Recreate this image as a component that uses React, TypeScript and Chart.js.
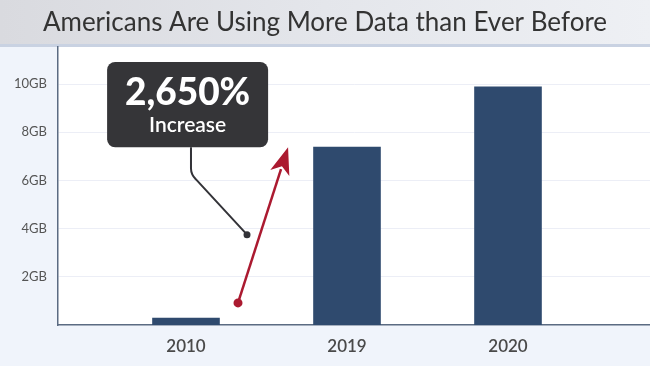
import React, { useEffect, useRef } from 'react';
import { Chart, registerables } from 'chart.js';

Chart.register(...registerables);

// ---- data ----
const years = ['2010', '2019', '2020'];
const usageGB = [0.3, 7.4, 9.9];
const yTickValues = [2, 4, 6, 8, 10];
const chartTitle = 'Americans Are Using More Data than Ever Before';
const calloutLines = ['2,650%', 'Increase'];
// annotation geometry, in data units (x = category index, y = GB)
const calloutBox = [-0.49, 10.92, 0.51, 7.375];
const connectorPts = [
  [0.031, 7.375],
  [0.031, 6.25],
  [0.379, 3.75],
];
const arrowPts = [
  [0.323, 0.917],
  [0.634, 7.375],
];

const FONT = 'Lato, "Noto Sans", sans-serif';

const backgroundPlugin = {
  id: 'bgPlugin',
  beforeDraw(chart: any) {
    const { ctx, width, height, chartArea } = chart;
    ctx.save();
    ctx.fillStyle = '#f0f4fb';
    ctx.fillRect(0, 0, width, height);
    const g = ctx.createLinearGradient(0, 0, width, 0);
    g.addColorStop(0, '#d9dadf');
    g.addColorStop(0.5, '#e4e6eb');
    g.addColorStop(1, '#eef0f4');
    ctx.fillStyle = g;
    ctx.fillRect(0, 0, width, chartArea.top - 3);
    ctx.fillStyle = '#c9d2e2';
    ctx.fillRect(0, chartArea.top - 3, width, 3);
    ctx.fillStyle = '#ffffff';
    ctx.fillRect(chartArea.left, chartArea.top, chartArea.right - chartArea.left, chartArea.bottom - chartArea.top);
    ctx.restore();
  },
};

const annotationPlugin = {
  id: 'annotPlugin',
  afterDatasetsDraw(chart: any) {
    const { ctx } = chart;
    const xs = chart.scales.x;
    const ys = chart.scales.y;
    const px = (v: number) => xs.getPixelForValue(v);
    const py = (v: number) => ys.getPixelForValue(v);
    ctx.save();

    // connector line
    const c = connectorPts.map(([x, y]) => [px(x), py(y)]);
    ctx.strokeStyle = '#333338';
    ctx.lineWidth = 2;
    ctx.lineJoin = 'round';
    ctx.beginPath();
    ctx.moveTo(c[0][0], c[0][1]);
    ctx.lineTo(c[1][0], c[1][1] - 6);
    ctx.quadraticCurveTo(c[1][0], c[1][1], c[1][0] + 5, c[1][1] + 5);
    ctx.lineTo(c[2][0], c[2][1]);
    ctx.stroke();
    ctx.fillStyle = '#333338';
    ctx.beginPath();
    ctx.arc(c[2][0], c[2][1], 3.5, 0, Math.PI * 2);
    ctx.fill();

    // callout box
    const bx0 = px(calloutBox[0]);
    const by0 = py(calloutBox[1]);
    const bx1 = px(calloutBox[2]);
    const by1 = py(calloutBox[3]);
    ctx.fillStyle = '#353538';
    ctx.beginPath();
    (ctx as any).roundRect(bx0, by0, bx1 - bx0, by1 - by0, 8);
    ctx.fill();
    const cx = (bx0 + bx1) / 2;
    ctx.fillStyle = '#ffffff';
    ctx.textAlign = 'center';
    ctx.textBaseline = 'alphabetic';
    ctx.font = `900 37px ${FONT}`;
    ctx.fillText(calloutLines[0], cx, by0 + 43);
    ctx.font = `600 21px ${FONT}`;
    ctx.fillText(calloutLines[1], cx, by0 + 70);

    // red arrow
    const a0 = [px(arrowPts[0][0]), py(arrowPts[0][1])];
    const a1 = [px(arrowPts[1][0]), py(arrowPts[1][1])];
    const ang = Math.atan2(a1[1] - a0[1], a1[0] - a0[0]);
    const headLen = 27;
    const headHalf = 10;
    const red = '#ab1a30';
    ctx.strokeStyle = red;
    ctx.fillStyle = red;
    ctx.lineWidth = 2.5;
    ctx.beginPath();
    ctx.moveTo(a0[0], a0[1]);
    ctx.lineTo(a1[0] - Math.cos(ang) * (headLen - 4), a1[1] - Math.sin(ang) * (headLen - 4));
    ctx.stroke();
    const bxh = a1[0] - Math.cos(ang) * headLen;
    const byh = a1[1] - Math.sin(ang) * headLen;
    const nx = -Math.sin(ang);
    const ny = Math.cos(ang);
    const inner = a1[0] - Math.cos(ang) * (headLen - 7);
    const innerY = a1[1] - Math.sin(ang) * (headLen - 7);
    ctx.beginPath();
    ctx.moveTo(a1[0], a1[1]);
    ctx.lineTo(bxh + nx * headHalf, byh + ny * headHalf);
    ctx.lineTo(inner, innerY);
    ctx.lineTo(bxh - nx * headHalf, byh - ny * headHalf);
    ctx.closePath();
    ctx.fill();
    ctx.beginPath();
    ctx.arc(a0[0], a0[1], 4.5, 0, Math.PI * 2);
    ctx.fill();

    ctx.restore();
  },
};

export default function App() {
  const ref = useRef<HTMLCanvasElement>(null);
  useEffect(() => {
    if (!ref.current) return;
    const chart = new Chart(ref.current, {
      type: 'bar',
      data: {
        datasets: [
          {
            data: usageGB.map((v, i) => ({ x: i, y: v })),
            backgroundColor: '#2f4a6e',
            categoryPercentage: 0.42,
            barPercentage: 1,
          },
        ],
      },
      options: {
        responsive: false,
        animation: false,
        layout: { padding: 0 },
        plugins: {
          legend: { display: false },
          tooltip: { enabled: false },
          title: {
            display: true,
            text: chartTitle,
            color: '#333333',
            font: { family: FONT, size: 26, weight: 'normal' },
            padding: { top: 7, bottom: 8.8 },
          },
        },
        scales: {
          x: {
            type: 'linear',
            offset: false,
            min: -0.795,
            max: 2.882,
            afterBuildTicks: (s: any) => {
              s.ticks = years.map((_, i) => ({ value: i }));
            },
            afterFit: (s: any) => {
              s.height = 41;
            },
            ticks: {
              callback: (v: any) => years[Math.round(Number(v))] ?? '',
              color: '#4a4a4a',
              font: { family: FONT, size: 17, weight: '600' },
              padding: 11,
              autoSkip: false,
              maxRotation: 0,
            },
            grid: { display: false, drawTicks: false, offset: false },
            border: { color: '#5b6b82', width: 1.5 },
          },
          y: {
            min: 0,
            max: 11.54,
            afterBuildTicks: (s: any) => {
              s.ticks = yTickValues.map((v) => ({ value: v }));
            },
            afterFit: (s: any) => {
              s.width = 58;
            },
            ticks: {
              callback: (v: any) => `${v}GB`,
              color: '#555555',
              font: { family: FONT, size: 13 },
              padding: 11,
            },
            grid: { color: '#eceef6', drawTicks: false },
            border: { color: '#5b6b82', width: 1.5 },
          },
        },
      },
      plugins: [backgroundPlugin, annotationPlugin],
    } as any);
    return () => chart.destroy();
  }, []);
  return (
    <div style={{ position: 'fixed', left: 0, top: 0, width: 650, height: 366 }}>
      <canvas ref={ref} width={650} height={366} style={{ display: 'block' }} />
    </div>
  );
}
